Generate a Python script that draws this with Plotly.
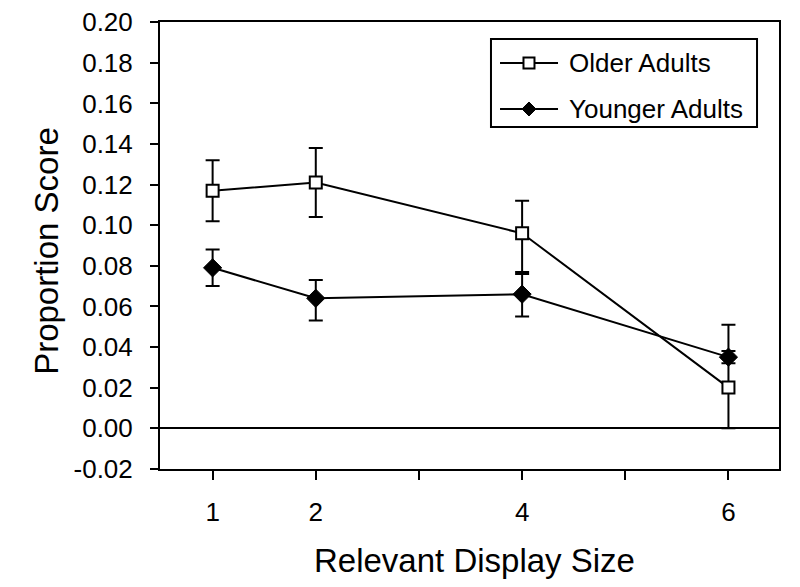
import plotly.graph_objects as go

display_size = [1, 2, 4, 6]
older_mean = [0.117, 0.121, 0.096, 0.020]
older_err_plus = [0.015, 0.017, 0.016, 0.031]
older_err_minus = [0.015, 0.017, 0.020, 0.020]
younger_mean = [0.079, 0.064, 0.066, 0.035]
younger_err_plus = [0.009, 0.009, 0.011, 0.003]
younger_err_minus = [0.009, 0.011, 0.011, 0.003]

series_names = ["Older Adults", "Younger Adults"]
x_tickvals = [1, 2, 3, 4, 5, 6]
x_ticktext = ["1", "2", "", "4", "", "6"]
y_tickvals = [-0.02, 0.0, 0.02, 0.04, 0.06, 0.08, 0.10, 0.12, 0.14, 0.16, 0.18, 0.20]
y_ticktext = ["-0.02", "0.00", "0.02", "0.04", "0.06", "0.08", "0.10",
              "0.12", "0.14", "0.16", "0.18", "0.20"]

font_family = "Liberation Sans, Arial, sans-serif"

fig = go.Figure()
fig.add_trace(go.Scatter(
    x=display_size, y=older_mean, name=series_names[0], mode="lines+markers",
    line=dict(color="black", width=2),
    marker=dict(symbol="square", size=12, color="white", line=dict(color="black", width=2)),
    error_y=dict(type="data", symmetric=False, array=older_err_plus, arrayminus=older_err_minus,
                 color="black", thickness=2, width=7),
))
fig.add_trace(go.Scatter(
    x=display_size, y=younger_mean, name=series_names[1], mode="lines+markers",
    line=dict(color="black", width=2),
    marker=dict(symbol="diamond", size=14, color="black", line=dict(color="black", width=1)),
    error_y=dict(type="data", symmetric=False, array=younger_err_plus, arrayminus=younger_err_minus,
                 color="black", thickness=2, width=7),
))

# Hand-drawn legend (box, line samples, marker samples) in paper coordinates
leg_x0, leg_x1, leg_y0, leg_y1 = 0.5347, 0.9645, 0.7651, 0.962
row_y = [0.9083, 0.8054]
line_x0, line_x1, marker_x, text_x = 0.5493, 0.6430, 0.5961, 0.6575

shapes = [
    dict(type="rect", xref="paper", yref="paper", x0=leg_x0, x1=leg_x1, y0=leg_y0, y1=leg_y1,
         line=dict(color="black", width=2), fillcolor="white", layer="above"),
]
annotations = []
for i, ry in enumerate(row_y):
    shapes.append(dict(type="line", xref="paper", yref="paper", x0=line_x0, x1=line_x1,
                       y0=ry, y1=ry, line=dict(color="black", width=2), layer="above"))
    if i == 0:
        shapes.append(dict(type="rect", xref="paper", yref="paper", xsizemode="pixel",
                           ysizemode="pixel", xanchor=marker_x, yanchor=ry,
                           x0=-5.5, x1=5.5, y0=-5.5, y1=5.5,
                           line=dict(color="black", width=2), fillcolor="white", layer="above"))
    else:
        shapes.append(dict(type="path", xref="paper", yref="paper", xsizemode="pixel",
                           ysizemode="pixel", xanchor=marker_x, yanchor=ry,
                           path="M0,7 L7,0 L0,-7 L-7,0 Z",
                           line=dict(color="black", width=1), fillcolor="black", layer="above"))
    annotations.append(dict(text=series_names[i], xref="paper", yref="paper",
                            x=text_x, y=ry, xanchor="left", yanchor="middle",
                            showarrow=False, font=dict(size=26, family=font_family)))

annotations += [
    dict(text="Relevant Display Size", xref="paper", yref="paper",
         x=0.508, y=-0.2058, xanchor="center", yanchor="middle",
         showarrow=False, font=dict(size=33, family=font_family)),
    dict(text="Proportion Score", xref="paper", yref="paper",
         x=-0.1828, y=0.4877, xanchor="center", yanchor="middle", textangle=-90,
         showarrow=False, font=dict(size=33, family=font_family)),
]

fig.update_layout(
    width=800, height=587,
    margin=dict(l=152, r=29, t=14, b=126, autoexpand=False),
    plot_bgcolor="white", paper_bgcolor="white",
    font=dict(family=font_family, color="black", size=26),
    showlegend=False,
    xaxis=dict(
        range=[0.49, 6.49], tickvals=x_tickvals, ticktext=x_ticktext,
        ticks="outside", ticklen=9, tickwidth=2, tickcolor="black",
        showline=True, linecolor="black", linewidth=2, mirror=True,
        showgrid=False, zeroline=False, ticklabelstandoff=10,
        ticklabeloverflow="allow", automargin=False, tickfont=dict(size=26),
    ),
    yaxis=dict(
        range=[-0.0201, 0.2001], tickvals=y_tickvals, ticktext=y_ticktext,
        ticks="outside", ticklen=8, tickwidth=2, tickcolor="black",
        showline=True, linecolor="black", linewidth=2, mirror=True,
        showgrid=False, zeroline=True, zerolinecolor="black", zerolinewidth=2,
        ticklabelstandoff=12, ticklabeloverflow="allow", automargin=False,
        tickfont=dict(size=26),
    ),
    shapes=shapes,
    annotations=annotations,
)

fig.write_html("out.html")
